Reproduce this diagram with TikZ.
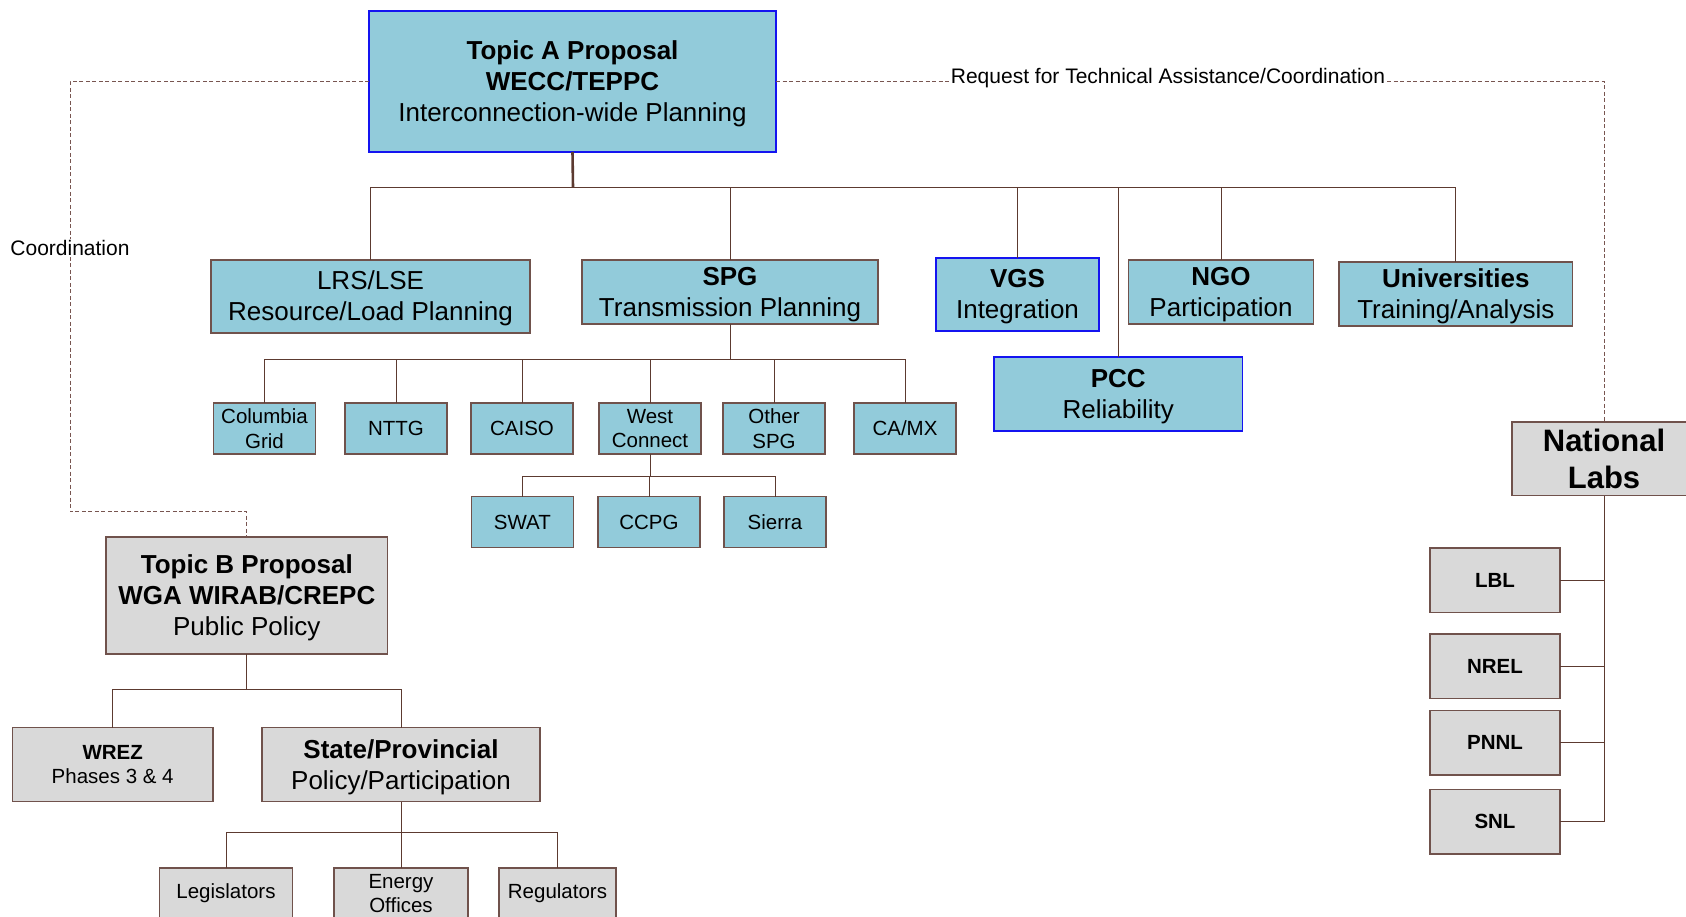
\documentclass[tikz,border=0pt]{standalone}
\usepackage{fontspec}
\setmainfont{Liberation Sans}
\definecolor{cyanF}{RGB}{146,203,218}
\definecolor{grayF}{RGB}{217,217,217}
\definecolor{brd}{RGB}{112,82,76}
\definecolor{lnc}{RGB}{92,58,48}
\definecolor{blu}{RGB}{20,20,240}
\definecolor{dshc}{RGB}{120,85,80}
\newcommand\tup{\rule{0pt}{23pt}}
\tikzset{
 bx/.style={rectangle, inner sep=0pt, outer sep=0pt, align=center, draw=brd, line width=1.2pt},
 cy/.style={bx, fill=cyanF},
 gy/.style={bx, fill=grayF},
 bl/.style={draw=blu, line width=1.3pt},
 big/.style={font=\fontsize{26}{31}\selectfont},
 sml/.style={font=\fontsize{20.5}{24.5}\selectfont},
 huge/.style={font=\fontsize{31}{37}\selectfont\bfseries},
 conn/.style={draw=lnc, line width=1pt},
 dsh/.style={draw=dshc, line width=1pt, dash pattern=on 4pt off 2.5pt},
 lbl/.style={font=\fontsize{21}{24}\selectfont, fill=white, inner sep=1pt}
}
\begin{document}
\begin{tikzpicture}[x=1pt,y=-1pt]
\useasboundingbox (0,0) rectangle (1686,917);
\fill[white] (0,0) rectangle (1686,917);

% dashed coordination lines (drawn first)
\coordinate (dl) at (70,511.7);
\node[gy, big, minimum width=281.6pt, minimum height=117pt] (TB) at (246.8,595.5)
  {\tup\textbf{Topic B Proposal}\\\textbf{WGA WIRAB/CREPC}\\Public Policy};
\node[gy, huge, minimum width=184pt, minimum height=73.7pt] (NL) at (1604,458.8) {National\\Labs};
\node[cy, bl, big, minimum width=407pt, minimum height=141pt] (TA) at (572.5,81.5)
  {\tup\textbf{Topic A Proposal}\\\textbf{WECC/TEPPC}\\Interconnection-wide Planning};
\draw[dsh] (TA.west) -| (dl) -| (TB.north);
\draw[dsh] (TA.east) -| (NL.north);
\node[lbl] (coord) at (70,248) {Coordination};
\node[lbl, anchor=base] (req) at (1168,83.5) {Request for Technical Assistance/Coordination};

% level 2
\node[cy, big, minimum width=319pt, minimum height=73pt] (LRS) at (370.5,296.5) {\tup LRS/LSE\\Resource/Load Planning};
\node[cy, big, minimum width=296pt, minimum height=64pt] (SPG) at (730,292) {\tup\textbf{SPG}\\Transmission Planning};
\node[cy, bl, big, minimum width=163pt, minimum height=73pt] (VGS) at (1017.5,294.5) {\tup\textbf{VGS}\\Integration};
\node[cy, big, minimum width=185.5pt, minimum height=64pt] (NGO) at (1221,292) {\tup\textbf{NGO}\\Participation};
\node[cy, big, minimum width=233.6pt, minimum height=64pt] (UNI) at (1455.8,294) {\tup\textbf{Universities}\\Training/Analysis};
\node[cy, bl, big, minimum width=248.5pt, minimum height=74pt] (PCC) at (1118.2,394) {\tup\textbf{PCC}\\Reliability};

\coordinate (busA) at (573,187.7);
\draw[draw=lnc, line width=2.6pt] (TA.south) -- (busA);
\foreach \n in {LRS,SPG,VGS,PCC,NGO,UNI} { \draw[conn] (\n.north) |- (busA); }

% level 3 (SPG members)
\foreach \n/\x/\t in {CG/264.5/{Columbia\\Grid}, NTTG/396/{NTTG}, CAISO/522/{CAISO}, WC/650/{West\\Connect}, OSPG/774/{Other\\SPG}, CAMX/905/{CA/MX}}
  { \node[cy, sml, minimum width=102pt, minimum height=51pt] (\n) at (\x,428.5) {\t}; }
\coordinate (busS) at (730,359);
\draw[conn] (SPG.south) -- (busS);
\foreach \n in {CG,NTTG,CAISO,WC,OSPG,CAMX} { \draw[conn] (\n.north) |- (busS); }

% level 4 (WestConnect members)
\foreach \n/\x/\t in {SWAT/522.3/SWAT, CCPG/649/CCPG, SIE/775/Sierra}
  { \node[cy, sml, minimum width=102pt, minimum height=51pt] (\n) at (\x,522.2) {\t}; }
\coordinate (busW) at (650,476);
\draw[conn] (WC.south) -- (busW);
\foreach \n in {SWAT,CCPG,SIE} { \draw[conn] (\n.north) |- (busW); }

% Topic B tree
\node[gy, sml, minimum width=200.6pt, minimum height=74pt] (WREZ) at (112.7,764.7) {\textbf{WREZ}\\Phases 3 \& 4};
\node[gy, big, minimum width=278pt, minimum height=74pt] (STP) at (401,764.7) {\tup\textbf{State/Provincial}\\Policy/Participation};
\coordinate (busB) at (246.8,689);
\draw[conn] (TB.south) -- (busB);
\foreach \n in {WREZ,STP} { \draw[conn] (\n.north) |- (busB); }

\node[gy, sml, minimum width=133.4pt, minimum height=51pt] (LEG) at (226,893.5) {Legislators};
\node[gy, sml, minimum width=134pt, minimum height=51pt] (ENO) at (401,893.5) {Energy\\Offices};
\node[gy, sml, minimum width=117pt, minimum height=51pt] (REG) at (557.5,893.5) {Regulators};
\coordinate (busP) at (401,832);
\draw[conn] (STP.south) -- (busP);
\foreach \n in {LEG,ENO,REG} { \draw[conn] (\n.north) |- (busP); }

% National labs
\foreach \n/\y in {LBL/580.3, NREL/666.2, PNNL/742.8, SNL/821.8}
  { \node[gy, font=\fontsize{20.5}{24}\selectfont\bfseries, minimum width=130pt, minimum height=64.5pt] (\n) at (1495,\y) {\n}; }
\foreach \n in {LBL,NREL,PNNL,SNL} { \draw[conn] (\n.east) -| (NL.south); }
\end{tikzpicture}
\end{document}
